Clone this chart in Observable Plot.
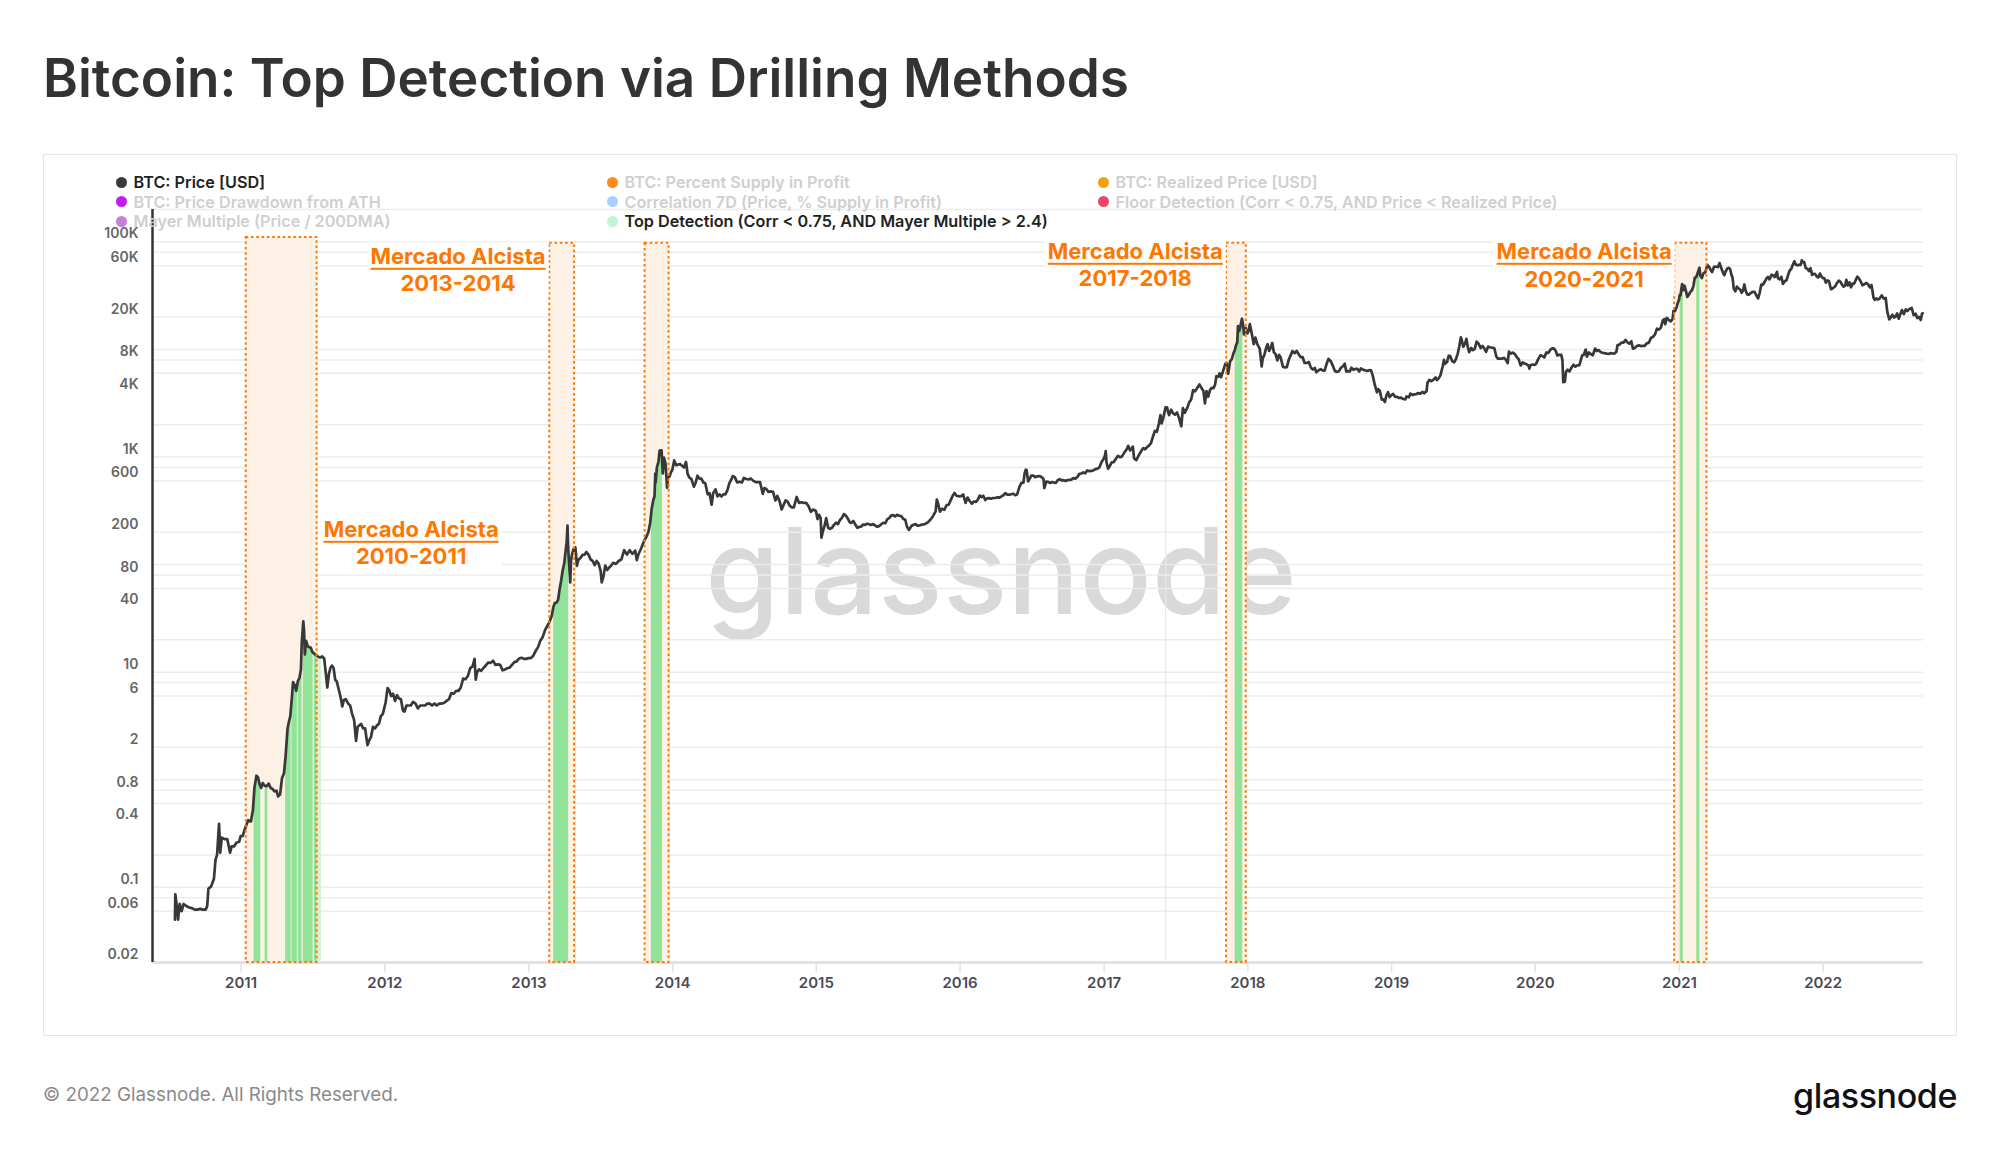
<!DOCTYPE html>
<html>
<head>
<meta charset="utf-8">
<script src="https://cdn.jsdelivr.net/npm/d3@7"></script>
<script src="https://cdn.jsdelivr.net/npm/@observablehq/plot@0.6"></script>
<style>
  html, body { margin: 0; padding: 0; background: #fff; }
  body { width: 2000px; height: 1159px; position: relative; overflow: hidden; font-family: Inter, "Noto Sans", sans-serif; }
  #title { position: absolute; left: 43px; top: 52px; font-size: 53px; line-height: 53px; font-weight: 600; color: #333; white-space: nowrap; }
  #panel { position: absolute; left: 43px; top: 154px; width: 1914px; height: 882px; border: 1.5px solid #e6e6e6; box-sizing: border-box; }
  #chart { position: absolute; left: 0; top: 0; }
  #legend { position: absolute; left: 0; top: 0; z-index: 3; }
  .li { position: absolute; height: 20px; line-height: 20px; font-size: 16.2px; font-weight: 600; white-space: nowrap; display: flex; align-items: center; }
  .dot { width: 11px; height: 11px; border-radius: 50%; margin-right: 7px; flex: none; }
  #copy { position: absolute; left: 43px; top: 1084px; font-size: 18.8px; line-height: 22px; color: #8a8a8a; }
  #logo { position: absolute; right: 43px; top: 1075px; font-size: 34px; line-height: 42px; color: #111; font-weight: 500; letter-spacing: -0.4px; }
</style>
</head>
<body>
<div id="title"></div>
<div id="panel"></div>
<div id="chart"></div>
<div id="legend"></div>
<div id="copy"></div>
<div id="logo"></div>
<script>
// ---------------- DATA ----------------
const titleText = "Bitcoin: Top Detection via Drilling Methods";
const copyText = "© 2022 Glassnode. All Rights Reserved.";
const logoText = "glassnode";

const legendItems = [
  {label: "BTC: Price [USD]", color: "#3a3a3a", active: true, col: 0, row: 0},
  {label: "BTC: Price Drawdown from ATH", color: "#c21cf2", active: false, col: 0, row: 1},
  {label: "Mayer Multiple (Price / 200DMA)", color: "#c77fd8", active: false, col: 0, row: 2},
  {label: "BTC: Percent Supply in Profit", color: "#ff8a17", active: false, col: 1, row: 0},
  {label: "Correlation 7D (Price, % Supply in Profit)", color: "#a9d0fb", active: false, col: 1, row: 1},
  {label: "Top Detection (Corr < 0.75, AND Mayer Multiple > 2.4)", color: "#c6f2d4", active: true, col: 1, row: 2},
  {label: "BTC: Realized Price [USD]", color: "#f0a20c", active: false, col: 2, row: 0},
  {label: "Floor Detection (Corr < 0.75, AND Price < Realized Price)", color: "#ee4566", active: false, col: 2, row: 1}
];

const yTickLabels = [100000, 60000, 20000, 8000, 4000, 1000, 600, 200, 80, 40, 10, 6, 2, 0.8, 0.4, 0.1, 0.06, 0.02];
const yGridValues = [200000, 100000, 80000, 60000, 20000, 10000, 8000, 6000, 2000, 1000, 800, 600, 200, 100, 80, 60, 20, 10, 8, 6, 2, 1, 0.8, 0.6, 0.2, 0.1, 0.08, 0.06];
const yDomain = [0.02, 200000];
const xDomain = ["2010-05-21", "2022-09-13"];
const yearTicks = [2011, 2012, 2013, 2014, 2015, 2016, 2017, 2018, 2019, 2020, 2021, 2022];

// BTC price [USD], [MMDD, price] per year
const price2010 = [[717,.05],[718,.086],[720,.075],[723,.06],[725,.05],[729,.07],[803,.06],[808,.07],[815,.067],[822,.065],[829,.064],[905,.062],[912,.062],[919,.063],[926,.062],[1003,.062],[1007,.067],[1010,.097],[1017,.102],[1024,.12],[1028,.18],[1101,.2],[1106,.39],[1109,.21],[1113,.29],[1120,.28],[1127,.28],[1204,.21],[1208,.24],[1214,.24],[1220,.26],[1227,.265],[1231,.3]];
const price2011 = [[105,.30],[112,.36],[119,.42],[126,.41],[131,.52],[204,.85],[209,1.09],[213,1.05],[217,.91],[221,.84],[225,.93],[302,.88],[307,.87],[312,.92],[317,.84],[322,.82],[327,.78],[401,.79],[405,.70],[410,.73],[415,1.04],[420,1.15],[424,1.64],[429,3.0],[502,3.4],[506,3.9],[510,5.8],[513,8.1],[517,7.6],[521,6.7],[525,8.2],[529,8.8],[602,10.6],[604,18.5],[608,29.6],[610,23.9],[612,14.6],[615,19.6],[619,17.5],[623,17.1],[627,16.9],[701,15.4],[706,14.8],[711,14.4],[716,13.9],[721,13.7],[726,14.0],[731,13.4],[804,9.9],[808,7.2],[812,9.6],[816,11.0],[820,11.5],[824,10.9],[828,8.5],[901,8.2],[906,6.9],[911,5.8],[915,4.8],[919,5.5],[924,5.6],[930,5.1],[1005,4.9],[1010,4.1],[1015,3.6],[1020,2.3],[1024,3.1],[1028,3.2],[1102,3.3],[1107,3.0],[1112,3.0],[1118,2.1],[1122,2.3],[1127,2.5],[1202,3.1],[1207,3.0],[1212,3.2],[1217,3.3],[1222,3.9],[1227,4.1],[1231,4.7]];
const price2012 = [[103,5.2],[108,7.1],[112,6.8],[117,6.0],[122,6.3],[127,5.4],[201,6.1],[206,5.7],[211,5.6],[216,4.4],[220,4.3],[225,4.9],[301,4.9],[307,4.9],[313,5.3],[319,5.1],[325,4.6],[331,4.9],[406,4.9],[412,4.9],[418,5.1],[424,5.1],[430,4.9],[506,5.1],[512,4.9],[518,5.1],[524,5.1],[531,5.2],[606,5.4],[612,5.6],[618,6.4],[624,6.3],[630,6.7],[706,6.7],[712,7.2],[718,8.7],[724,8.6],[730,9.2],[805,10.9],[811,11.3],[816,13.3],[819,8.5],[822,9.9],[827,10.6],[902,10.3],[908,11.0],[914,11.6],[920,12.3],[926,12.2],[1002,12.8],[1008,11.7],[1014,11.8],[1020,11.7],[1026,10.4],[1101,10.6],[1107,10.9],[1113,11.0],[1119,11.7],[1125,12.4],[1201,12.6],[1207,13.4],[1213,13.6],[1219,13.3],[1225,13.3],[1231,13.5]];
const price2013 = [[106,13.5],[112,14.2],[118,15.7],[124,17.0],[130,19.6],[205,21.2],[211,24.6],[217,27.0],[223,29.8],[228,33.4],[304,40.2],[308,44.2],[312,44.3],[316,46.9],[320,59.1],[324,71.5],[328,89],[401,104],[404,132],[407,162],[409,230],[410,165],[412,117],[414,90],[416,68.4],[418,110],[421,126.5],[425,141],[429,144.5],[503,97.5],[507,112],[512,115],[517,123],[522,123.5],[527,130.9],[602,122.5],[607,111],[612,108],[617,99],[622,108],[627,102],[702,88],[705,68.5],[709,76.5],[714,98],[719,89],[724,94],[729,98],[803,104],[810,101.5],[817,108],[824,112],[831,136],[907,124],[914,136],[921,126],[928,135],[1002,110],[1006,124],[1013,141],[1020,164],[1027,183],[1101,204],[1105,245],[1109,333],[1113,400],[1116,430],[1118,703],[1119,580],[1122,800],[1126,900],[1129,1150],[1204,1151],[1207,703],[1210,990],[1214,870],[1218,520],[1220,650],[1224,660],[1228,727],[1231,754]];
const price2014 = [[105,930],[110,840],[115,850],[120,860],[125,830],[130,800],[204,900],[208,700],[212,650],[218,620],[224,530],[228,570],[305,670],[310,630],[315,630],[320,580],[325,570],[331,450],[405,460],[410,360],[414,460],[420,500],[425,430],[430,450],[505,430],[510,450],[515,450],[520,490],[525,570],[531,630],[603,665],[608,650],[614,580],[620,590],[626,580],[701,640],[707,625],[713,620],[719,630],[725,600],[731,585],[805,585],[811,585],[818,455],[822,515],[827,505],[901,475],[907,480],[913,475],[919,395],[924,435],[930,385],[1005,325],[1010,360],[1015,395],[1020,385],[1025,355],[1031,340],[1105,340],[1112,425],[1118,375],[1124,380],[1130,375],[1206,375],[1212,350],[1218,310],[1224,325],[1231,315]];
const price2015 = [[104,265],[108,290],[112,270],[114,178],[117,200],[122,230],[126,270],[131,220],[205,215],[210,220],[215,235],[220,245],[225,238],[302,260],[307,272],[312,295],[317,285],[322,268],[327,247],[331,244],[405,255],[410,236],[415,220],[420,224],[425,226],[430,236],[505,234],[510,240],[515,237],[520,234],[525,238],[531,230],[605,225],[610,229],[615,237],[620,245],[625,242],[630,263],[705,271],[710,285],[715,288],[720,280],[725,290],[731,285],[805,281],[810,265],[815,261],[819,226],[824,210],[831,230],[905,235],[910,238],[915,230],[920,231],[925,235],[930,236],[1005,240],[1010,245],[1015,255],[1020,268],[1025,285],[1031,313],[1103,403],[1106,374],[1111,310],[1116,330],[1122,323],[1128,357],[1203,360],[1208,395],[1213,434],[1218,463],[1223,437],[1231,431]];
const price2016 = [[104,433],[109,448],[115,375],[120,420],[125,392],[131,368],[205,386],[210,382],[215,400],[220,438],[225,424],[229,437],[305,398],[310,413],[315,415],[320,410],[325,416],[331,416],[405,422],[410,420],[415,430],[420,441],[425,462],[430,448],[505,447],[510,451],[515,456],[520,442],[525,449],[531,531],[605,575],[610,577],[613,705],[616,765],[618,757],[622,593],[626,630],[630,673],[705,671],[710,650],[715,662],[720,665],[725,655],[731,625],[802,515],[807,590],[812,587],[817,574],[822,586],[831,574],[905,608],[910,624],[915,607],[920,609],[925,600],[930,609],[1005,612],[1010,617],[1015,638],[1020,630],[1025,652],[1030,698],[1104,703],[1109,720],[1114,705],[1119,751],[1124,739],[1130,742],[1205,754],[1210,772],[1215,780],[1220,801],[1225,896],[1231,963]];
const price2017 = [[103,1033],[105,1134],[107,894],[111,778],[115,819],[120,893],[125,895],[131,965],[205,1026],[210,997],[215,1009],[220,1082],[225,1152],[228,1190],[303,1270],[308,1150],[311,1190],[315,1250],[318,971],[324,938],[330,1040],[405,1130],[410,1209],[415,1180],[420,1238],[425,1276],[430,1350],[505,1550],[510,1750],[515,1716],[520,2050],[524,2446],[527,2050],[531,2300],[606,2900],[610,2890],[612,2650],[615,2450],[620,2750],[625,2550],[630,2480],[705,2600],[710,2320],[716,1930],[720,2850],[725,2580],[731,2860],[805,3220],[810,3420],[815,4190],[820,4090],[825,4360],[831,4740],[902,4580],[905,4400],[910,4120],[914,3150],[918,4100],[922,3630],[927,4210],[1001,4400],[1006,4370],[1010,4760],[1013,5640],[1018,5570],[1021,6000],[1025,5520],[1031,6450],[1105,7400],[1108,7460],[1112,5950],[1117,7800],[1121,8100],[1126,9330],[1129,9900],[1202,10980],[1205,11640],[1207,16500],[1210,14900],[1213,16400],[1217,19300],[1220,16700],[1222,13800],[1226,15900],[1231,14100]];
const price2018 = [[103,14900],[106,17200],[110,14600],[116,11200],[120,12900],[125,11200],[131,10200],[202,8900],[205,6950],[208,8300],[212,8900],[216,10200],[220,11200],[224,9700],[228,10400],[304,11500],[308,9400],[312,9100],[317,7900],[321,8900],[325,8500],[331,6900],[405,6800],[410,6840],[415,8060],[420,8850],[424,9650],[430,9240],[505,9700],[510,9020],[515,8500],[520,8500],[525,7480],[531,7490],[605,7630],[610,6780],[615,6500],[620,6730],[624,6150],[630,6400],[705,6550],[710,6390],[715,6350],[720,7350],[725,8180],[731,7730],[805,7030],[810,6310],[814,6200],[820,6260],[825,6720],[831,7020],[904,7380],[908,6230],[912,6280],[917,6240],[921,6760],[926,6460],[1001,6600],[1006,6600],[1011,6240],[1015,6650],[1020,6500],[1025,6400],[1031,6320],[1105,6420],[1110,6400],[1114,5740],[1119,4760],[1122,4340],[1125,4000],[1128,4280],[1202,4140],[1207,3420],[1211,3440],[1215,3250],[1219,3750],[1223,4000],[1227,3600],[1231,3740]];
const price2019 = [[105,3860],[110,3630],[115,3620],[120,3540],[125,3570],[131,3460],[205,3440],[208,3660],[214,3590],[218,3890],[224,3770],[228,3830],[305,3850],[310,3930],[315,3880],[320,4030],[325,3910],[331,4100],[402,4900],[407,5200],[412,5070],[417,5220],[423,5490],[426,5200],[430,5350],[505,5740],[511,6980],[514,7990],[517,7360],[522,7630],[526,8740],[530,8660],[604,7780],[609,7600],[614,8230],[618,9100],[622,10700],[626,12930],[628,12370],[702,10590],[707,11450],[710,12570],[714,10370],[717,9430],[722,10340],[726,9850],[731,10090],[805,11820],[810,11320],[815,10300],[820,10780],[825,10140],[829,9490],[903,10620],[908,10480],[914,10360],[919,10270],[924,8600],[928,8220],[1003,8230],[1008,8210],[1014,8350],[1019,7960],[1023,7460],[1026,9550],[1031,9160],[1105,9340],[1110,9060],[1115,8500],[1120,8100],[1122,7620],[1125,7100],[1130,7570],[1205,7400],[1210,7270],[1215,7080],[1217,6640],[1220,7150],[1225,7240],[1231,7200]];
const price2020 = [[103,7340],[108,8080],[114,8820],[119,8700],[124,8430],[129,9380],[203,9290],[208,9900],[213,10240],[218,10170],[222,9690],[226,8790],[302,8910],[307,8910],[310,7930],[312,4970],[316,5010],[319,6200],[323,6480],[328,6250],[402,6800],[407,7200],[412,6910],[417,7100],[422,7130],[429,8790],[503,8900],[508,9980],[511,8560],[516,9380],[521,9050],[526,8840],[601,10200],[605,9660],[610,9880],[615,9450],[620,9300],[625,9250],[630,9140],[705,9080],[710,9240],[715,9190],[720,9160],[725,9540],[728,11000],[802,11100],[807,11600],[812,11570],[817,12260],[822,11660],[827,11320],[901,11920],[905,10170],[910,10340],[915,10780],[920,10920],[925,10740],[930,10780],[1005,10790],[1010,11380],[1015,11500],[1021,12820],[1026,13070],[1031,13800],[1105,15600],[1110,15300],[1115,15960],[1120,18680],[1124,19150],[1126,17150],[1130,19700],[1205,18800],[1210,18260],[1215,19270],[1217,22800],[1221,22750],[1225,24700],[1228,27080],[1231,29000]];
const price2021 = [[102,32200],[104,31970],[106,36770],[108,40580],[111,35570],[114,39150],[117,35790],[121,30830],[125,32260],[129,34280],[202,35500],[206,39260],[209,46400],[213,47190],[217,52150],[221,57540],[223,48800],[227,46150],[303,50970],[308,52360],[313,61200],[317,58910],[322,54510],[325,52300],[330,58740],[404,58760],[409,58310],[413,63500],[418,56200],[422,51700],[425,49000],[429,53560],[503,56600],[507,57350],[510,55860],[513,49700],[516,46430],[519,37000],[523,34700],[527,38400],[601,36700],[605,35800],[608,33600],[612,35500],[615,40200],[618,35600],[622,32500],[626,32200],[701,33500],[706,34240],[711,34260],[716,31500],[720,29800],[724,33800],[728,40000],[801,39900],[806,42800],[810,45600],[814,47100],[818,44800],[823,49500],[827,48900],[831,47100],[906,52700],[908,46100],[913,44900],[917,47300],[921,40700],[926,43200],[930,43800],[1004,49200],[1008,53900],[1012,56000],[1016,60900],[1020,65900],[1024,61300],[1028,60600],[1101,61300],[1105,61200],[1108,67500],[1110,64900],[1114,65000],[1118,56900],[1122,56300],[1126,53600],[1130,57000],[1204,49300],[1208,50500],[1212,50100],[1216,47600],[1220,46700],[1224,50800],[1228,47600],[1231,46300]];
const price2022 = [[104,45900],[108,41800],[112,43900],[116,43100],[121,36300],[124,36700],[128,37700],[201,38700],[205,41400],[210,43600],[214,42600],[218,40000],[222,38300],[226,39200],[301,44400],[305,39400],[309,41900],[313,37800],[317,40900],[321,41000],[325,44300],[329,47500],[402,45800],[406,43200],[411,39500],[416,40400],[420,41500],[425,40400],[430,37700],[504,39700],[509,30300],[512,29000],[516,29800],[520,29200],[524,29600],[530,31800],[604,29700],[609,30100],[613,22500],[618,19000],[622,19900],[626,21000],[630,19800],[704,20200],[708,21600],[712,19300],[716,21200],[720,23200],[725,21300],[730,23600],[803,22800],[808,23800],[814,24300],[819,20800],[824,21500],[828,19600],[901,20100],[906,18800],[909,21400],[911,21700]];

// Top Detection periods (Corr < 0.75 AND Mayer Multiple > 2.4)
const topDetection = [
  ["2011-02-03","2011-02-20"],["2011-03-03","2011-03-10"],["2011-04-24","2011-05-08"],["2011-05-10","2011-05-24"],
  ["2011-05-26","2011-06-05"],["2011-06-08","2011-07-03"],["2011-07-06","2011-07-13"],
  ["2013-03-05","2013-04-12"],["2013-11-08","2013-12-06"],["2017-11-30","2017-12-19"],
  ["2021-01-03","2021-01-11"],["2021-02-14","2021-02-22"]
];
const topDetectionFaint = [["2011-07-14","2011-07-24"],["2013-04-28","2013-05-02"],["2013-12-23","2013-12-26"],["2017-06-06","2017-06-09"]];

// Bull market windows
const bullStart = ["2011-01-14","2013-02-23","2013-10-23","2017-11-08","2020-12-20"];
const bullEnd   = ["2011-07-13","2013-04-27","2013-12-23","2017-12-28","2021-03-12"];
const bullTop   = [110000, 97000, 97000, 97000, 97000];

// Annotations: anchor date, value of line 1 and line 2
const annoTitle = "Mercado Alcista";
const annoYears = ["2010-2011","2013-2014","2017-2018","2020-2021"];
const annoDate  = ["2012-03-08","2012-07-05","2017-03-21","2020-05-04"];
const annoY1    = [208, 71800, 79900, 79900];
const annoY2    = [119, 40300, 45000, 43900];

// ---------------- BUILD ----------------
const prices = [];
[[2010,price2010],[2011,price2011],[2012,price2012],[2013,price2013],[2014,price2014],[2015,price2015],
 [2016,price2016],[2017,price2017],[2018,price2018],[2019,price2019],[2020,price2020],[2021,price2021],[2022,price2022]]
 .forEach(([yr, arr]) => arr.forEach(([md, v]) => prices.push({date: new Date(Date.UTC(yr, Math.floor(md/100) - 1, md % 100)), price: v})));

const D = s => new Date(s + "T00:00:00Z");
const bulls = bullStart.map((s, i) => ({start: D(s), end: D(bullEnd[i]), top: bullTop[i]}));
const annos = annoYears.map((y, i) => ({date: D(annoDate[i]), y1: annoY1[i], y2: annoY2[i], years: y, title: annoTitle}));
const years = yearTicks.map(y => new Date(Date.UTC(y, 0, 1)));
const fmtY = v => v >= 1000 ? (v / 1000) + "K" : String(v);
const ORANGE = "#ff7700";

const chart = Plot.plot({
  width: 2000, height: 1000,
  marginLeft: 152, marginRight: 77, marginTop: 209, marginBottom: 38,
  style: {background: "transparent", overflow: "visible", fontFamily: "Inter"},
  x: {type: "utc", domain: xDomain.map(D), axis: null},
  y: {type: "log", domain: yDomain, axis: null},
  marks: [
    Plot.text(["glassnode"], {text: d => d, frameAnchor: "middle", dx: -37, dy: -10, fontSize: 120, fontWeight: 500, fontFamily: "Inter", fill: "#d9d9d9", letterSpacing: "-2px"}),
    Plot.ruleY(yGridValues, {stroke: "#ececec", strokeWidth: 1.5}),
    Plot.ruleY([0.02], {stroke: "#e2e2e2", strokeWidth: 3}),
    Plot.rect(bulls, {x1: "start", x2: "end", y1: 0.02, y2: "top", fill: "#fdf0e4"}),
    Plot.areaY(prices, {x: "date", y1: 0.02, y2: "price", fill: "#91e39a", ariaDescription: "top-detect"}),
    Plot.areaY(prices, {x: "date", y1: 0.02, y2: "price", fill: "#d0f5d6", ariaDescription: "top-detect-faint"}),
    Plot.line(prices, {x: "date", y: "price", stroke: "#383838", strokeWidth: 2.7, strokeLinejoin: "round"}),
    Plot.rect(bulls, {x1: "start", x2: "end", y1: 0.02, y2: "top", fill: "none", stroke: ORANGE, strokeWidth: 2, strokeDasharray: "2.5,2.8"}),
    Plot.ruleX([D(xDomain[0])], {y1: 0.02, y2: 200000, stroke: "#333", strokeWidth: 2.5}),
    Plot.ruleX(years, {x: d => d, y1: 0.02, y2: 0.016, stroke: "#e2e2e2", strokeWidth: 1.5}),
    Plot.text(years, {x: d => d, y: 0.02, dy: 21, text: d => String(d.getUTCFullYear()), fontSize: 15, fontWeight: 600, fill: "#4b4b55", fontFamily: "Inter"}),
    Plot.text(yTickLabels, {y: d => d, frameAnchor: "left", dx: -14, dy: -8, textAnchor: "end", text: fmtY, fontSize: 14, fontWeight: 600, fill: "#666", fontFamily: "Inter"}),
    Plot.text(annos, {x: "date", y: "y1", text: "title", fontSize: 22, fontWeight: 700, fill: ORANGE, fontFamily: "Inter", ariaDescription: "anno-title"}),
    Plot.text(annos, {x: "date", y: "y2", text: "years", fontSize: 22, fontWeight: 700, fill: ORANGE, fontFamily: "Inter", ariaDescription: "anno-years"})
  ]
});

document.getElementById("chart").append(chart);

// clip the detection areas to their periods, using the plot's x scale
const NS = "http://www.w3.org/2000/svg";
const xs = chart.scale("x");
const X = xs.apply ? (d => xs.apply(d)) : d3.scaleUtc(xs.domain, xs.range);
const defs = document.createElementNS(NS, "defs");
chart.insertBefore(defs, chart.firstChild);
function clipTo(desc, periods, id) {
  const cp = document.createElementNS(NS, "clipPath");
  cp.setAttribute("id", id);
  periods.forEach(([s, e]) => {
    const x0 = X(D(s)), x1 = X(D(e));
    const r = document.createElementNS(NS, "rect");
    r.setAttribute("x", x0); r.setAttribute("y", 0);
    r.setAttribute("width", Math.max(1.2, x1 - x0)); r.setAttribute("height", 1000);
    cp.appendChild(r);
  });
  defs.appendChild(cp);
  const g = chart.querySelector(`g[aria-description="${desc}"]`);
  if (g) g.setAttribute("clip-path", `url(#${id})`);
}
clipTo("top-detect", topDetection, "clipTop");
clipTo("top-detect-faint", topDetectionFaint, "clipTopFaint");

// white backing and underline for the annotations
const svgRect = chart.getBoundingClientRect();
const tG = chart.querySelector('g[aria-description="anno-title"]');
const tT = tG ? tG.querySelectorAll("text") : [];
const yT = chart.querySelectorAll('g[aria-description="anno-years"] text');
const bg = document.createElementNS(NS, "g");
const ul = document.createElementNS(NS, "g");
tT.forEach((t, i) => {
  const b1 = t.getBoundingClientRect(), b2 = yT[i].getBoundingClientRect();
  const l = Math.min(b1.left, b2.left) - svgRect.left, r = Math.max(b1.right, b2.right) - svgRect.left;
  const top = b1.top - svgRect.top, bot = b2.bottom - svgRect.top;
  const rc = document.createElementNS(NS, "rect");
  rc.setAttribute("x", l - 3); rc.setAttribute("y", top - 1);
  rc.setAttribute("width", r - l + 6); rc.setAttribute("height", bot - top + 2);
  rc.setAttribute("fill", "#fff");
  bg.appendChild(rc);
  const u = document.createElementNS(NS, "rect");
  const base = b1.top - svgRect.top + b1.height * 0.8;
  u.setAttribute("x", b1.left - svgRect.left); u.setAttribute("y", base + 3.6);
  u.setAttribute("width", b1.width); u.setAttribute("height", 2);
  u.setAttribute("fill", ORANGE);
  ul.appendChild(u);
});
if (tG) { chart.insertBefore(bg, tG); chart.appendChild(ul); }

// HTML texts
document.getElementById("title").textContent = titleText;
document.getElementById("copy").textContent = copyText;
document.getElementById("logo").textContent = logoText;
const colX = [121, 612, 1103], rowY = [182, 201.5, 221];
const leg = document.getElementById("legend");
legendItems.forEach(it => {
  const d = document.createElement("div");
  d.className = "li";
  d.style.left = (colX[it.col] - 5.5) + "px";
  d.style.top = (rowY[it.row] - 10) + "px";
  d.style.color = it.active ? "#222" : "#cfcfcf";
  const dot = document.createElement("span");
  dot.className = "dot"; dot.style.background = it.color;
  const tx = document.createElement("span");
  tx.textContent = it.label;
  d.append(dot, tx);
  leg.appendChild(d);
});
</script>
</body>
</html>
